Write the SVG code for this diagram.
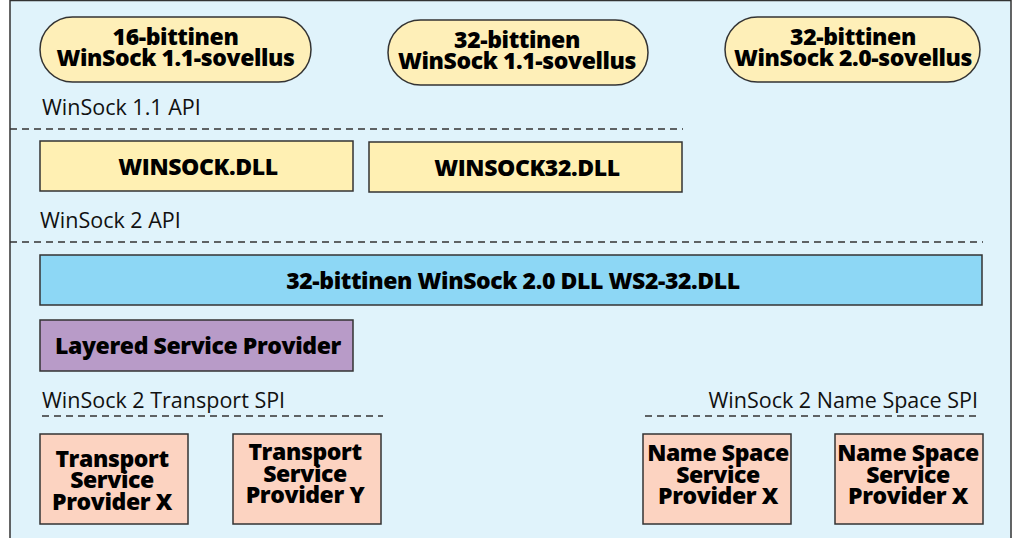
<svg xmlns="http://www.w3.org/2000/svg" width="1013" height="538" viewBox="0 0 1013 538">
<style>
.frame{fill:#e0f3fb;stroke:#333;stroke-width:1.5}
.box{stroke:#333;stroke-width:1.5}
.pill{fill:#feefb8}
.dll{fill:#fff0b3}
.blue{fill:#8dd7f5}
.purple{fill:#b89bc8}
.salmon{fill:#fcd3c1}
.b{font-family:"Open Sans","Noto Sans",sans-serif;font-weight:800;font-size:23px;fill:#000;text-anchor:middle;letter-spacing:-0.4px}
.l{font-family:"Open Sans","Noto Sans",sans-serif;font-size:21.5px;fill:#111}
.dash{stroke:#333;stroke-width:1.3;stroke-dasharray:7,5;fill:none}
</style>
<rect class="frame" x="10" y="0.5" width="1001" height="545"/>
<g id="connectors">
<line class="dash" x1="10" y1="129" x2="683" y2="129"/>
<line class="dash" x1="10" y1="242" x2="983" y2="242"/>
<line class="dash" x1="42" y1="416" x2="383" y2="416"/>
<line class="dash" x1="645" y1="416" x2="980" y2="416"/>
</g>
<g id="labels">
<text class="l" x="42" y="115">WinSock 1.1 API</text>
<text class="l" x="40" y="228">WinSock 2 API</text>
<text class="l" x="42" y="408">WinSock 2 Transport SPI</text>
<text class="l" x="978" y="408" text-anchor="end">WinSock 2 Name Space SPI</text>
</g>
<g id="app16">
<rect class="box pill" x="40" y="17" width="271" height="65" rx="32.5"/>
<text class="b" x="175.5" y="45">16-bittinen</text>
<text class="b" x="175.5" y="66">WinSock 1.1-sovellus</text>
</g>
<g id="app32-11">
<rect class="box pill" x="388" y="20" width="260" height="65" rx="32.5"/>
<text class="b" x="517" y="48">32-bittinen</text>
<text class="b" x="517" y="69">WinSock 1.1-sovellus</text>
</g>
<g id="app32-20">
<rect class="box pill" x="725" y="17" width="255" height="65" rx="32.5"/>
<text class="b" x="853" y="45">32-bittinen</text>
<text class="b" x="853" y="66">WinSock 2.0-sovellus</text>
</g>
<g id="winsock-dll">
<rect class="box dll" x="40" y="141" width="313" height="50"/>
<text class="b" x="198" y="175">WINSOCK.DLL</text>
</g>
<g id="winsock32-dll">
<rect class="box dll" x="369" y="142" width="313" height="50"/>
<text class="b" x="527" y="176">WINSOCK32.DLL</text>
</g>
<g id="ws2-32">
<rect class="box blue" x="40" y="255" width="942" height="50"/>
<text class="b" x="513" y="289">32-bittinen WinSock 2.0 DLL WS2-32.DLL</text>
</g>
<g id="lsp">
<rect class="box purple" x="40" y="320" width="313" height="51"/>
<text class="b" x="198" y="354">Layered Service Provider</text>
</g>
<g id="tsp-x">
<rect class="box salmon" x="40" y="434" width="148" height="90"/>
<text class="b" x="112" y="467">Transport</text>
<text class="b" x="112" y="488">Service</text>
<text class="b" x="112" y="510">Provider X</text>
</g>
<g id="tsp-y">
<rect class="box salmon" x="233" y="434" width="148" height="90"/>
<text class="b" x="305" y="460">Transport</text>
<text class="b" x="305" y="482">Service</text>
<text class="b" x="305" y="503">Provider Y</text>
</g>
<g id="nsp-1">
<rect class="box salmon" x="643" y="434" width="148" height="90"/>
<text class="b" x="718" y="461">Name Space</text>
<text class="b" x="718" y="483">Service</text>
<text class="b" x="718" y="504">Provider X</text>
</g>
<g id="nsp-2">
<rect class="box salmon" x="835" y="434" width="148" height="90"/>
<text class="b" x="908" y="461">Name Space</text>
<text class="b" x="908" y="483">Service</text>
<text class="b" x="908" y="504">Provider X</text>
</g>
</svg>
